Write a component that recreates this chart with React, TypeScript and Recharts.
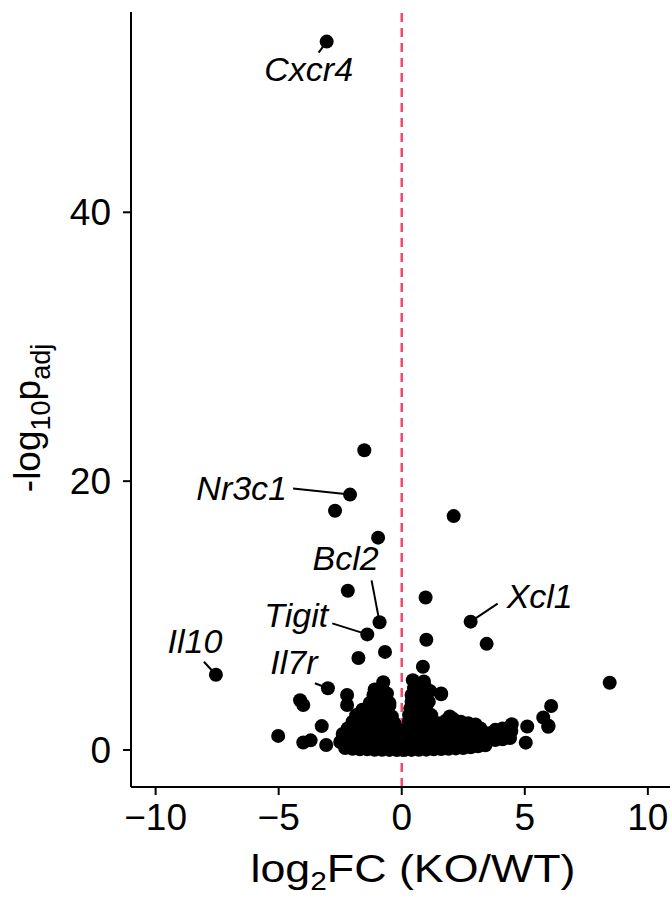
import React from 'react';
import { ScatterChart, Scatter, XAxis, YAxis, ReferenceLine } from 'recharts';

// dense body of the volcano (log2FC, -log10 padj)
const bulkPoints: [number, number][] = [
  [-2.3, 0.15], [-2.0, 0.1], [-1.7, 0.05], [-1.4, 0.05], [-1.1, 0.02], [-0.8, 0.02], [-0.5, 0.01], [-0.2, 0.0],
  [0.1, 0.0], [0.4, 0.01], [0.7, 0.02], [1.0, 0.03], [1.3, 0.05], [1.6, 0.08], [1.9, 0.1], [2.2, 0.12],
  [2.5, 0.15], [2.8, 0.2], [3.1, 0.28], [3.4, 0.35],
  [-2.5, 0.6], [-2.2, 0.55], [-1.9, 0.5], [-1.6, 0.6], [-1.3, 0.5], [-1.0, 0.6], [-0.7, 0.5], [-0.4, 0.55],
  [-0.1, 0.4], [0.2, 0.45], [0.5, 0.6], [0.8, 0.5], [1.1, 0.55], [1.4, 0.6], [1.7, 0.5], [2.0, 0.6],
  [2.3, 0.55], [2.6, 0.6], [2.9, 0.65], [3.2, 0.6], [3.5, 0.7], [3.8, 0.75], [4.1, 0.8], [4.4, 0.9],
  [-2.4, 1.2], [-2.1, 1.1], [-1.8, 1.15], [-1.5, 1.05], [-1.2, 1.2], [-0.9, 1.1], [-0.6, 1.15], [-0.3, 1.0],
  [0.25, 1.05], [0.55, 1.2], [0.85, 1.1], [1.15, 1.15], [1.45, 1.05], [1.75, 1.1], [2.05, 1.2], [2.35, 1.05],
  [2.65, 1.15], [2.95, 1.1], [3.25, 1.2], [3.55, 1.25], [3.85, 1.3], [4.15, 1.35], [4.45, 1.4],
  [-2.2, 1.6], [-1.9, 1.7], [-1.6, 1.55], [-1.3, 1.65], [-1.0, 1.6], [-0.7, 1.7], [-0.4, 1.55], [-0.15, 1.5],
  [0.2, 1.6], [0.5, 1.7], [0.8, 1.55], [1.1, 1.65], [1.4, 1.6], [1.7, 1.7], [2.0, 1.6], [2.3, 1.55],
  [2.6, 1.65], [2.9, 1.7], [3.2, 1.6], [3.8, 1.5], [4.1, 1.6],
  [-2.0, 2.1], [-1.7, 2.2], [-1.4, 2.05], [-1.1, 2.15], [-0.8, 2.1], [-0.5, 2.2], [-0.3, 2.0], [0.3, 2.15],
  [0.6, 2.05], [0.9, 2.2], [1.2, 2.1], [1.5, 2.0], [1.8, 2.2], [2.1, 2.3], [2.4, 2.1], [2.7, 2.0], [3.0, 1.9],
  [-1.85, 2.6], [-1.5, 2.7], [-1.2, 2.55], [-0.9, 2.65], [-0.6, 2.6], [-0.4, 2.5], [0.3, 2.6], [0.6, 2.7],
  [0.9, 2.55], [1.2, 2.6], [1.95, 2.5],
  [-1.6, 3.0], [-1.3, 3.2], [-1.0, 3.1], [-0.7, 3.05], [-0.5, 3.3], [0.35, 3.1], [0.7, 3.2], [1.0, 3.0],
  [-1.3, 3.5], [-1.0, 3.65], [-0.7, 3.7], [-0.5, 3.5], [0.4, 3.6], [0.75, 3.7], [1.1, 3.6],
  [-1.15, 4.1], [-0.9, 4.0], [-0.6, 4.2], [0.4, 4.1], [0.75, 4.0], [1.0, 4.2], [1.6, 4.2],
  [-1.1, 4.5], [-0.8, 4.7], [0.5, 4.6], [0.95, 4.7], [1.15, 4.4],
  [-0.75, 5.05], [0.45, 5.2], [0.9, 5.1],
];

// scattered, unlabelled genes
const outlierPoints: [number, number][] = [
  [-1.52, 22.3], [-2.71, 17.8], [2.11, 17.4], [-0.96, 15.8], [-2.19, 11.85], [0.97, 11.35], [1.0, 8.2],
  [3.45, 7.9], [-0.68, 7.3], [-1.76, 6.85], [0.86, 6.2], [8.45, 5.0], [-4.13, 3.7], [-4.0, 3.35],
  [-2.22, 4.09], [-2.22, 3.35], [6.07, 3.27], [-3.25, 1.78], [-5.02, 1.05], [-4.0, 0.56], [-3.7, 0.72],
  [-3.07, 0.37], [5.04, 0.55], [5.97, 1.8], [5.75, 2.42], [4.47, 1.92], [5.1, 1.75], [1.6, 4.15],
  [1.95, 2.35], [5.95, 1.73],
];

const labelledGenes = ['Cxcr4', 'Nr3c1', 'Bcl2', 'Tigit', 'Xcl1', 'Il10', 'Il7r'];
const labelledFC = [-3.05, -2.1, -0.9, -1.4, 2.8, -7.55, -3.0];
const labelledP = [52.7, 19.0, 9.5, 8.6, 9.55, 5.6, 4.6];

const xTicks = [-10, -5, 0, 5, 10];
const yTicks = [0, 20, 40];

const FONT = "'Liberation Sans', Arial, Helvetica, sans-serif";
const DOT_R = 7;

// pixel offsets of each gene label and its leader segment
const labelLayout: Record<string, { anchor: 'start' | 'middle' | 'end'; tx: number; ty: number; lx: number; ly: number }> = {
  Cxcr4: { anchor: 'middle', tx: -18, ty: 39, lx: -8, ly: 11 },
  Nr3c1: { anchor: 'end', tx: -63, ty: 5, lx: -57, ly: -6 },
  Bcl2: { anchor: 'middle', tx: -34, ty: -52, lx: -8, ly: -42 },
  Tigit: { anchor: 'end', tx: -39, ty: -7, lx: -35, ly: -11 },
  Xcl1: { anchor: 'start', tx: 36, ty: -14, lx: 27, ly: -18 },
  Il10: { anchor: 'middle', tx: -21, ty: -22, lx: -12, ly: -13 },
  Il7r: { anchor: 'middle', tx: -34, ty: -14, lx: -13, ly: -5 },
};

const toRows = (pts: [number, number][]) => pts.map(([fc, p]) => ({ fc, p }));
const bulkData = toRows(bulkPoints);
const outlierData = toRows(outlierPoints);
const labelledData = labelledGenes.map((gene, i) => ({ gene, fc: labelledFC[i], p: labelledP[i] }));

const Dot = (props: any) => <circle cx={props.cx} cy={props.cy} r={DOT_R} fill="#000" />;

const LabelledDot = (props: any) => {
  const { cx, cy, payload } = props;
  const l = labelLayout[payload.gene];
  return (
    <g>
      <line x1={cx} y1={cy} x2={cx + l.lx} y2={cy + l.ly} stroke="#000" strokeWidth={2} />
      <circle cx={cx} cy={cy} r={DOT_R} fill="#000" />
      <text x={cx + l.tx} y={cy + l.ty} textAnchor={l.anchor} fontSize={34} fontStyle="italic" fontFamily={FONT} fill="#000">
        {payload.gene}
      </text>
    </g>
  );
};

const fmt = (v: number) => (v < 0 ? `\u2212${-v}` : `${v}`);

const XTitle = (props: any) => {
  const vb = props.viewBox;
  const cx = vb.x + vb.width / 2 + 12;
  return (
    <text x={cx - 162} y={882} fontSize={39} fontFamily={FONT} fill="#000" textLength={325} lengthAdjust="spacingAndGlyphs">
      log<tspan fontSize={26} dy={8}>2</tspan><tspan dy={-8}>FC (KO/WT)</tspan>
    </text>
  );
};

const YTitle = () => {
  const x = 40;
  const y = 418;
  return (
    <text x={x} y={y} transform={`rotate(-90, ${x}, ${y})`} textAnchor="middle" fontSize={37} fontFamily={FONT} fill="#000">
      -log<tspan fontSize={27} dy={10}>10</tspan><tspan dy={-10}>p</tspan><tspan fontSize={27} dy={10}>adj</tspan>
    </text>
  );
};

export default function App() {
  return (
    <div style={{ position: 'absolute', left: 0, top: 0, background: '#fff' }}>
      <ScatterChart width={670} height={898} margin={{ top: 12, right: 0, bottom: 0, left: 0 }}>
        <XAxis
          type="number"
          dataKey="fc"
          domain={[-11, 10.9]}
          ticks={xTicks}
          allowDataOverflow
          tickFormatter={fmt}
          height={111}
          stroke="#000"
          strokeWidth={2}
          tickSize={8}
          tickMargin={9}
          tick={{ fontSize: 37, fill: '#000', fontFamily: FONT }}
          label={{ content: (p: any) => <XTitle {...p} /> }}
        />
        <YAxis
          type="number"
          dataKey="p"
          domain={[-2.75, 54.9]}
          ticks={yTicks}
          allowDataOverflow
          width={131}
          stroke="#000"
          strokeWidth={2}
          tickSize={8}
          tickMargin={12}
          tick={{ fontSize: 37, fill: '#000', fontFamily: FONT }}
          label={{ content: () => <YTitle /> }}
        />
        <ReferenceLine x={0} stroke="#ee4a6a" strokeWidth={2.5} strokeDasharray="9 6" />
        <Scatter data={bulkData} shape={Dot} isAnimationActive={false} />
        <Scatter data={outlierData} shape={Dot} isAnimationActive={false} />
        <Scatter data={labelledData} shape={LabelledDot} isAnimationActive={false} />
      </ScatterChart>
    </div>
  );
}
